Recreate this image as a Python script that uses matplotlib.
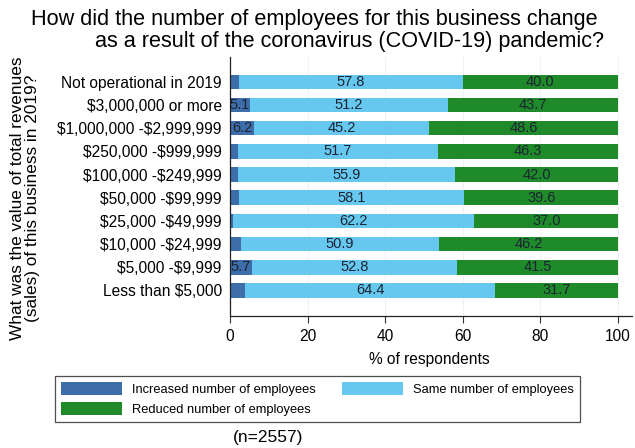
import matplotlib
matplotlib.use("Agg")
import matplotlib.pyplot as plt
from matplotlib.patches import Patch

plt.rcParams["font.family"] = ["Liberation Sans", "DejaVu Sans"]
plt.rcParams["text.parse_math"] = False

categories = [
    "Not operational in 2019",
    "$3,000,000 or more",
    "$1,000,000 -$2,999,999",
    "$250,000 -$999,999",
    "$100,000 -$249,999",
    "$50,000 -$99,999",
    "$25,000 -$49,999",
    "$10,000 -$24,999",
    "$5,000 -$9,999",
    "Less than $5,000",
]
increased = [2.2, 5.1, 6.2, 2.0, 2.1, 2.3, 0.8, 2.9, 5.7, 3.9]
same = [57.8, 51.2, 45.2, 51.7, 55.9, 58.1, 62.2, 50.9, 52.8, 64.4]
reduced = [40.0, 43.7, 48.6, 46.3, 42.0, 39.6, 37.0, 46.2, 41.5, 31.7]
series_names = [
    "Increased number of employees",
    "Same number of employees",
    "Reduced number of employees",
]
xticks = [0, 20, 40, 60, 80, 100]

colors = ["#3e6eaa", "#66c8ef", "#1f8a2a"]
label_color = "#1c2433"

W, H = 635, 448
fig = plt.figure(figsize=(W / 100, H / 100), dpi=100)
fig.patch.set_facecolor("white")

# axes rectangle in pixel terms
ax_l, ax_r, ax_t, ax_b = 230, 632, 57, 316
ax = fig.add_axes([ax_l / W, 1 - ax_b / H, (ax_r - ax_l) / W, (ax_b - ax_t) / H])

n = len(categories)
ypos = [n - 1 - i for i in range(n)]
bar_h = 0.63

left = [0.0] * n
for vals, col in zip([increased, same, reduced], colors):
    ax.barh(ypos, vals, left=left, height=bar_h, color=col, edgecolor="none", zorder=2)
    for y, l, v in zip(ypos, left, vals):
        if v >= 5:
            ax.text(l + v / 2, y, f"{v:.1f}", ha="center", va="center",
                    fontsize=10.5, color=label_color, zorder=3)
    left = [a + b for a, b in zip(left, vals)]

ax.set_xlim(0, 103.6)
ax.set_ylim(-1.1, n - 1 + 1.07)
ax.set_yticks(ypos)
ax.set_yticklabels(categories, fontsize=11.2)
ax.set_xticks(xticks)
ax.set_xticklabels([str(t) for t in xticks], fontsize=11.2)
ax.tick_params(axis="y", length=0, pad=6)
ax.tick_params(axis="x", length=5, width=0.8, pad=4, color="#333333")
for s in ["top", "right"]:
    ax.spines[s].set_visible(False)
for s in ["left", "bottom"]:
    ax.spines[s].set_linewidth(0.9)
    ax.spines[s].set_color("#222222")
ax.grid(axis="x", color="#eef1f5", linewidth=0.8, zorder=0)
ax.set_axisbelow(True)

# x axis title
fig.text(429 / W, 1 - 359 / H, "% of respondents", ha="center", va="center", fontsize=11.2)

# y axis title
fig.text(25 / W, 1 - 198 / H,
         "What was the value of total revenues\n(sales) of this business in 2019?",
         rotation=90, ha="center", va="center", fontsize=12.4,
         multialignment="center", linespacing=1.0)

# title, two lines
fig.text(598 / W, 1 - 20 / H,
         "How did the number of employees for this business change",
         ha="right", va="center", fontsize=15.6)
fig.text(604 / W, 1 - 41 / H,
         "as a result of the coronavirus (COVID-19) pandemic?",
         ha="right", va="center", fontsize=15.6)

# legend
handles = [Patch(facecolor=c, edgecolor="none") for c in colors]
order = [0, 2, 1]
leg = fig.legend([handles[i] for i in order], [series_names[i] for i in order],
                 ncol=2, loc="upper left",
                 bbox_to_anchor=(55 / W, 1 - 376 / H),
                 fontsize=9.3, frameon=True, fancybox=False,
                 handlelength=4.7, handleheight=1.15, handletextpad=0.8,
                 columnspacing=2.0, labelspacing=0.45, borderpad=0.5,
                 borderaxespad=0)
leg.get_frame().set_edgecolor("#222222")
leg.get_frame().set_linewidth(0.9)

fig.text(268 / W, 1 - 437 / H, "(n=2557)", ha="center", va="center", fontsize=12.5)

fig.savefig("out.png", dpi=100, facecolor="white")
